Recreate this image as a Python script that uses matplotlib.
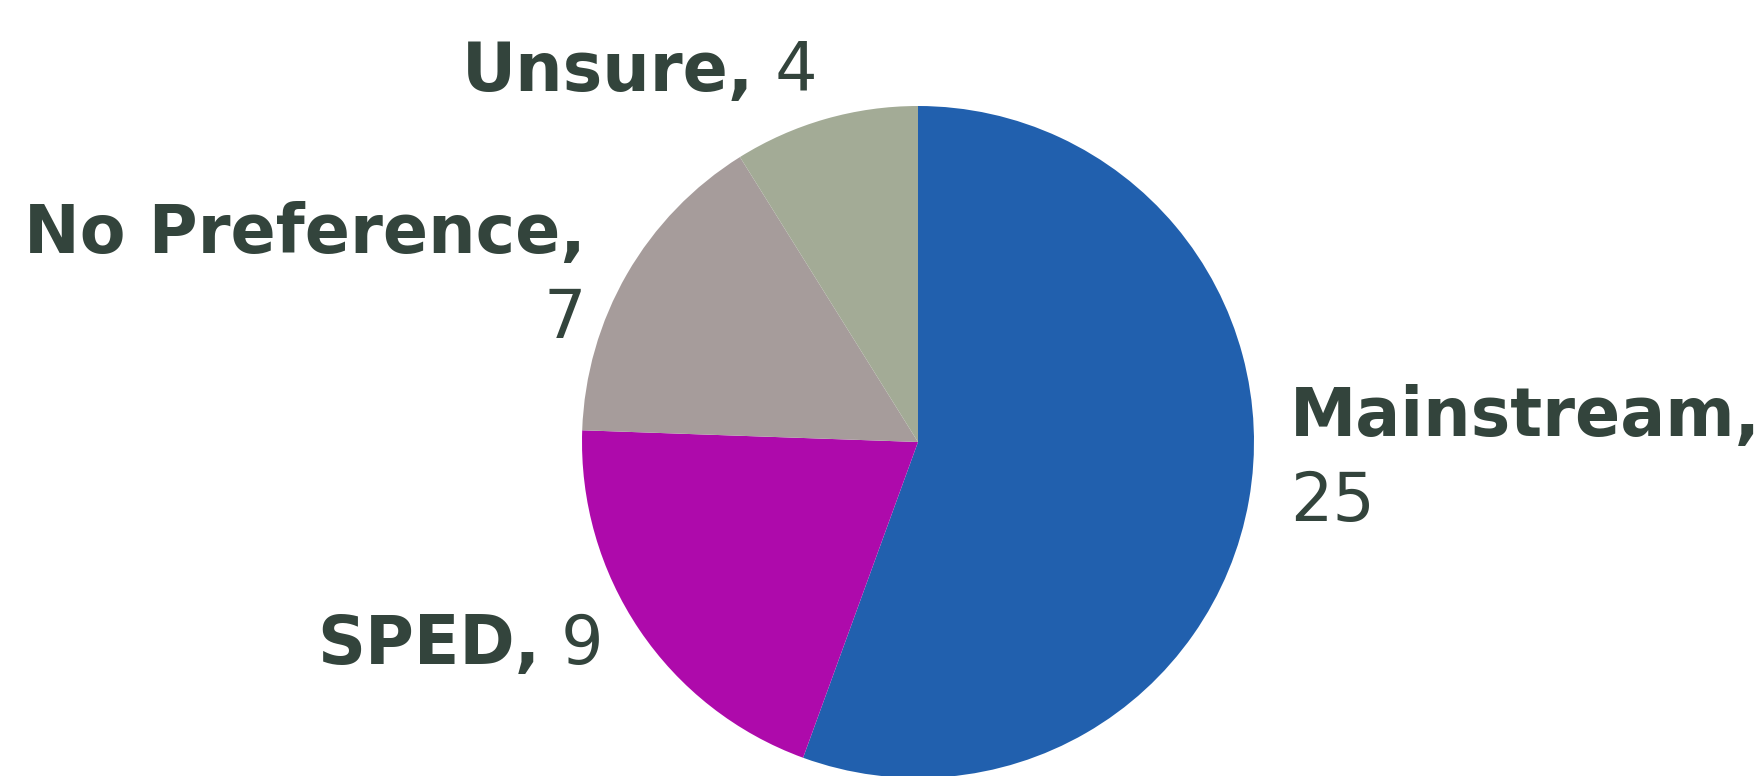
import matplotlib
matplotlib.use('Agg')
import matplotlib.pyplot as plt

labels = ['Mainstream', 'SPED', 'No Preference', 'Unsure']
values = [25, 9, 7, 4]
colors = ['#2160ae', '#ae0aab', '#a69c9b', '#a3ab96']
text_color = '#33443c'

plt.rcParams['font.family'] = ['DejaVu Sans']

fig = plt.figure(figsize=(17.65, 7.76), dpi=100)
ax = fig.add_axes([0, 0, 1, 1])

ax.pie(values, colors=colors, startangle=90, counterclock=False,
       center=(918, 334), radius=336, frame=True,
       wedgeprops=dict(linewidth=0))
ax.set_xlim(0, 1765)
ax.set_ylim(0, 776)
ax.set_aspect('auto')
ax.axis('off')

fs = 48


def two_line(name, num, x, y, ha, dy=85):
    ax.text(x, y, name + ',', fontsize=fs, fontweight='bold',
            color=text_color, ha=ha, va='baseline')
    ax.text(x, y - dy, str(num), fontsize=fs, color=text_color,
            ha=ha, va='baseline')


def one_line(name, num, x, y):
    t = ax.text(x, y, name + ',', fontsize=fs, fontweight='bold',
                color=text_color, ha='left', va='baseline')
    ax.annotate(' ' + str(num), xy=(1, 0), xycoords=t, fontsize=fs,
                color=text_color, ha='left', va='bottom')


two_line(labels[0], values[0], 1290, 340, 'left')
two_line(labels[2], values[2], 586, 523, 'right')
one_line(labels[3], values[3], 462, 685)
one_line(labels[1], values[1], 317, 112)

fig.savefig('out.png', dpi=100)
